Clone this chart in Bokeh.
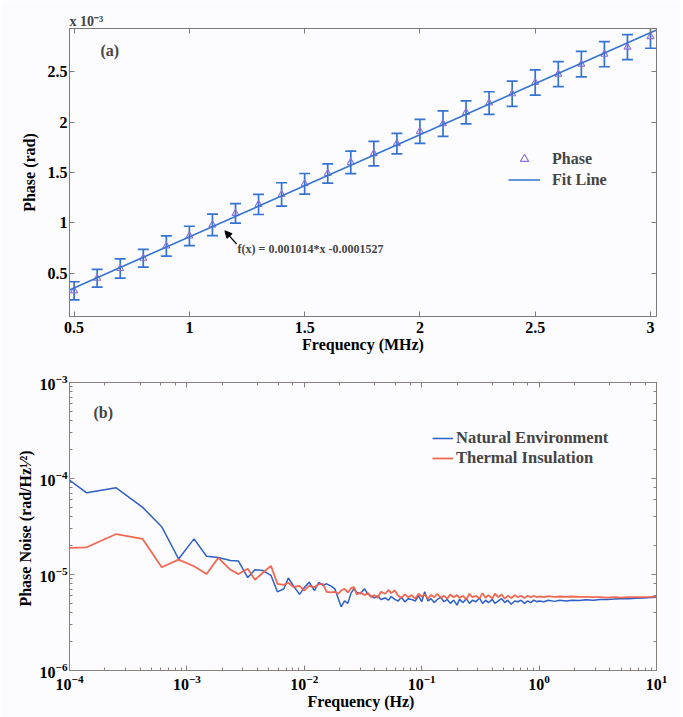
import math
from bokeh.plotting import figure
from bokeh.models import (Range1d, LinearAxis, LogAxis, FixedTicker, Whisker, TeeHead,
                          ColumnDataSource, Label, Arrow, NormalHead, Legend, LegendItem,
                          CustomJSTickFormatter)
from bokeh.layouts import column
from bokeh.embed import file_html
from bokeh.resources import INLINE

# ---------------- data: panel (a) ----------------
freq_mhz = [0.5, 0.6, 0.7, 0.8, 0.9, 1.0, 1.1, 1.2, 1.3, 1.4, 1.5, 1.6, 1.7,
            1.8, 1.9, 2.0, 2.1, 2.2, 2.3, 2.4, 2.5, 2.6, 2.7, 2.8, 2.9, 3.0]
# phase in units of 1e-3 rad
phase_e3 = [0.325, 0.45, 0.547, 0.649, 0.77, 0.87, 0.98, 1.094, 1.183, 1.282,
            1.388, 1.49, 1.60, 1.688, 1.787, 1.909, 1.985, 2.097, 2.19, 2.282,
            2.394, 2.477, 2.576, 2.675, 2.745, 2.85]
phase_err_e3 = [0.09, 0.088, 0.096, 0.088, 0.10, 0.096, 0.106, 0.096, 0.10, 0.116,
                0.102, 0.096, 0.112, 0.122, 0.102, 0.119, 0.127, 0.114, 0.112, 0.125,
                0.125, 0.125, 0.127, 0.125, 0.125, 0.116]
fit_slope = 0.001014
fit_intercept = -0.0001527
a_x_ticks = [0.5, 1.0, 1.5, 2.0, 2.5, 3.0]
a_y_ticks = [0.5, 1.0, 1.5, 2.0, 2.5]
a_x_limits = (0.48, 3.026)
a_y_limits = (0.07, 2.93)

# ---------------- data: panel (b) ----------------
noise_freq_hz = [
    1.0e-4, 1.4e-4, 2.5e-4, 4.2e-4, 6.1e-4, 8.5e-4,
    1.15e-3, 1.47e-3, 1.85e-3, 2.35e-3, 2.75e-3, 3.3e-3, 3.8e-3, 4.45e-3, 5.2e-3, 5.9e-3, 6.7e-3, 7.3e-3, 8.1e-3, 9.1e-3,
    1.0e-2, 1.1e-2, 1.22e-2, 1.33e-2, 1.44e-2, 1.55e-2, 1.68e-2, 1.82e-2, 1.95e-2, 2.06e-2,
    2.2e-2, 2.35e-2, 2.5e-2, 2.65e-2, 2.8e-2, 3.0e-2, 3.25e-2, 3.5e-2, 3.7e-2, 3.95e-2,
    4.2e-2, 4.5e-2, 4.9e-2, 5.2e-2, 5.5e-2, 5.9e-2, 6.3e-2, 6.7e-2, 7.2e-2, 7.7e-2,
    8.2e-2, 8.8e-2, 9.4e-2, 0.100, 0.106, 0.113, 0.120, 0.128, 0.136, 0.145,
    0.155, 0.165, 0.175, 0.187, 0.200, 0.210, 0.225, 0.240, 0.255, 0.270,
    0.290, 0.310, 0.330, 0.350, 0.370, 0.400, 0.420, 0.450, 0.480, 0.510,
    0.540, 0.580, 0.620, 0.660, 0.700, 0.750, 0.800, 0.850, 0.900, 0.960,
    1.0, 1.1, 1.2, 1.35, 1.5, 1.7, 1.9, 2.2, 2.5, 2.9,
    3.3, 3.8, 4.4, 5.0, 5.8, 6.7, 7.8, 9.0, 10.0]
# phase noise in units of 1e-6 rad/Hz^(1/2)
natural_env_u = [
    96, 71, 80, 50, 31.5, 14.5,
    23.5, 15.5, 15.0, 14.0, 13.8, 9.3, 11.2, 11.0, 9.8, 6.6, 7.1, 9.2, 7.6, 6.2,
    7.3, 8.3, 6.8, 8.3, 7.7, 8.0, 7.6, 7.1, 5.6, 4.6,
    5.3, 5.0, 6.4, 7.1, 6.5, 6.3, 7.1, 6.2, 6.0, 5.7,
    6.0, 5.5, 5.7, 5.4, 5.9, 5.5, 5.3, 5.8, 5.2, 5.6,
    5.5, 5.3, 6.0, 5.2, 6.6, 5.3, 5.6, 5.1, 5.5, 5.8,
    5.2, 5.5, 5.0, 5.4, 4.8, 5.5, 5.1, 5.6, 5.0, 5.4,
    5.2, 5.7, 5.0, 5.4, 5.1, 5.5, 5.0, 5.3, 5.6, 5.1,
    5.4, 4.9, 5.3, 5.2, 5.4, 5.0, 5.3, 5.1, 5.4, 5.2,
    5.3, 5.2, 5.4, 5.25, 5.4, 5.3, 5.4, 5.35, 5.45, 5.4,
    5.5, 5.5, 5.55, 5.6, 5.6, 5.65, 5.7, 5.75, 5.8]
thermal_ins_u = [
    18.9, 19.2, 26.4, 23.5, 11.9, 14.3,
    12.2, 10.1, 14.9, 11.2, 10.1, 11.5, 8.8, 10.5, 12.3, 8.0, 7.8, 8.2, 7.4, 7.6,
    6.8, 7.6, 7.4, 7.9, 8.0, 6.6, 6.5, 6.6, 6.3, 6.8,
    7.1, 6.5, 7.2, 7.4, 6.2, 6.5, 6.1, 6.4, 5.8, 6.1,
    5.7, 6.6, 6.3, 6.9, 6.4, 6.8, 6.0, 5.7, 6.2, 5.8,
    6.1, 5.6, 6.3, 5.9, 6.2, 5.6, 6.1, 5.8, 6.3, 5.7,
    6.0, 5.6, 6.2, 5.8, 6.1, 5.7, 6.0, 5.5, 6.3, 5.8,
    6.0, 5.6, 6.4, 5.7, 6.1, 5.6, 6.3, 5.8, 6.2, 5.6,
    6.0, 5.7, 6.1, 5.8, 6.0, 5.7, 6.0, 5.8, 6.0, 5.8,
    5.9, 5.8, 5.95, 5.85, 5.9, 5.85, 5.9, 5.85, 5.85, 5.8,
    5.8, 5.75, 5.8, 5.75, 5.8, 5.8, 5.8, 5.85, 5.9]
b_x_limits = (1e-4, 10.0)
b_y_limits = (1e-6, 1e-3)

# ---------------- styles ----------------
FONT = "Liberation Serif"
BG = "#fcfcfe"
FRAME_A = "#7a7a7a"
FRAME_B = "#86807c"
BLUE_A = "#3573d3"
PURPLE = "#8e70d8"
NAT = "#2d5fc6"
THERM = "#f0604a"

blank_fmt = CustomJSTickFormatter(code="return '';")
num_fmt = CustomJSTickFormatter(code="return String(Math.round(tick*10)/10);")


def style_axis(ax, color, show_labels=True):
    ax.axis_line_color = color
    ax.major_tick_line_color = color
    ax.minor_tick_line_color = color
    ax.major_tick_in = 5
    ax.major_tick_out = 0
    ax.minor_tick_in = 3
    ax.minor_tick_out = 0
    ax.major_label_text_font = FONT
    ax.major_label_text_font_style = "bold"
    ax.major_label_text_color = "black"
    ax.major_label_text_font_size = "16px"
    ax.axis_label_text_font = FONT
    ax.axis_label_text_font_style = "bold"
    ax.axis_label_text_font_size = "16px"
    ax.axis_label_text_color = "black"
    ax.axis_label_standoff = 0
    ax.major_label_standoff = 5
    if not show_labels:
        ax.formatter = blank_fmt
        ax.major_label_standoff = 0


# ---------------- panel (a) ----------------
pa = figure(width=680, height=355, x_range=Range1d(*a_x_limits), y_range=Range1d(*a_y_limits),
            output_backend="svg", toolbar_location=None,
            min_border_left=69, min_border_right=22, min_border_top=28, min_border_bottom=37,
            background_fill_color=BG, border_fill_color=BG, outline_line_color=FRAME_A)
pa.grid.visible = False
pa.title.text = "x 10\u207b\u00b3"
pa.title.align = "left"
pa.title.standoff = 0
pa.title.offset = 0
pa.title.text_font = FONT
pa.title.text_font_style = "bold"
pa.title.text_font_size = "14px"
pa.xaxis.ticker = FixedTicker(ticks=a_x_ticks)
pa.yaxis.ticker = FixedTicker(ticks=a_y_ticks)
pa.xaxis.formatter = num_fmt
pa.yaxis.formatter = num_fmt
pa.xaxis.axis_label = "Frequency (MHz)"
pa.yaxis.axis_label = "Phase (rad)"
for ax in pa.axis:
    style_axis(ax, FRAME_A)
pa.yaxis.major_label_standoff = 2
pa.yaxis.axis_label_standoff = 7
pa.add_layout(LinearAxis(ticker=FixedTicker(ticks=a_x_ticks)), "above")
pa.add_layout(LinearAxis(ticker=FixedTicker(ticks=a_y_ticks)), "right")
style_axis(pa.above[0], FRAME_A, show_labels=False)
style_axis(pa.right[0], FRAME_A, show_labels=False)

src_a = ColumnDataSource(dict(
    x=freq_mhz, y=phase_e3,
    upper=[v + e for v, e in zip(phase_e3, phase_err_e3)],
    lower=[v - e for v, e in zip(phase_e3, phase_err_e3)]))

tri = pa.scatter("x", "y", source=src_a, marker="triangle", size=7,
                 fill_color=None, line_color=PURPLE, line_width=1.1)
pa.add_layout(Whisker(source=src_a, base="x", upper="upper", lower="lower",
                      line_color=BLUE_A, line_width=1.7,
                      upper_head=TeeHead(size=11, line_color=BLUE_A, line_width=1.7),
                      lower_head=TeeHead(size=11, line_color=BLUE_A, line_width=1.7)))
fit_x = list(a_x_limits)
fit_y = [(fit_slope * x + fit_intercept) * 1e3 for x in fit_x]
fit = pa.line(fit_x, fit_y, line_color=BLUE_A, line_width=1.6)

leg_a = Legend(items=[LegendItem(label="Phase", renderers=[tri]),
                      LegendItem(label="Fit Line", renderers=[fit])],
               location=(439, 126), border_line_color=None, background_fill_alpha=0,
               label_text_font=FONT, label_text_font_style="bold", label_text_font_size="16px",
               glyph_width=32, glyph_height=21, label_height=21, spacing=0, padding=0,
               margin=0, label_standoff=12)
pa.add_layout(leg_a)

pa.add_layout(Label(x=31, y=266, x_units="screen", y_units="screen", text="(a)",
                    text_font=FONT, text_font_style="bold", text_font_size="16px",
                    text_baseline="middle", text_align="left"))
pa.add_layout(Label(x=1.209, y=0.741, text=f"f(x) = {fit_slope}*x {fit_intercept}",
                    text_font=FONT, text_font_style="bold", text_font_size="12px",
                    text_baseline="middle", text_align="left"))
pa.add_layout(Arrow(end=NormalHead(size=7, fill_color="black", line_color="black"),
                    x_start=1.205, y_start=0.79, x_end=1.154, y_end=0.921,
                    line_color="black", line_width=1.2))

# ---------------- panel (b) ----------------
pb = figure(width=680, height=362, x_axis_type="log", y_axis_type="log",
            x_range=Range1d(*b_x_limits), y_range=Range1d(*b_y_limits),
            output_backend="svg", toolbar_location=None,
            min_border_left=68, min_border_right=24, min_border_top=27, min_border_bottom=47,
            background_fill_color=BG, border_fill_color=BG, outline_line_color=FRAME_B)
pb.grid.visible = False
pb.xaxis.axis_label = "Frequency  (Hz)"
pb.yaxis.axis_label = "Phase Noise  (rad/Hz\u00b9\u2044\u00b2)"
for ax in pb.axis:
    style_axis(ax, FRAME_B)
pb.yaxis.major_label_standoff = 2
pb.yaxis.axis_label_standoff = 3
pb.xaxis.major_label_standoff = 4
pb.add_layout(LogAxis(), "above")
pb.add_layout(LogAxis(), "right")
style_axis(pb.above[0], FRAME_B, show_labels=False)
style_axis(pb.right[0], FRAME_B, show_labels=False)

nat_vals = [v * 1e-6 for v in natural_env_u]
therm_vals = [v * 1e-6 for v in thermal_ins_u]
l_nat = pb.line(noise_freq_hz, nat_vals, line_color=NAT, line_width=1.5)
l_therm = pb.line(noise_freq_hz, therm_vals, line_color=THERM, line_width=1.8, line_alpha=0.95)

leg_b = Legend(items=[LegendItem(label="Natural Environment", renderers=[l_nat]),
                      LegendItem(label="Thermal Insulation", renderers=[l_therm])],
               location=(363, 202), border_line_color=None, background_fill_alpha=0,
               label_text_font=FONT, label_text_font_style="bold", label_text_font_size="16.5px",
               glyph_width=21, glyph_height=20, label_height=20, spacing=0, padding=0,
               margin=0, label_standoff=3)
pb.add_layout(leg_b)

pb.add_layout(Label(x=24, y=258, x_units="screen", y_units="screen", text="(b)",
                    text_font=FONT, text_font_style="bold", text_font_size="16px",
                    text_baseline="middle", text_align="left"))

layout = column(pa, pb)
with open("out.html", "w") as f:
    f.write(file_html(layout, INLINE))
